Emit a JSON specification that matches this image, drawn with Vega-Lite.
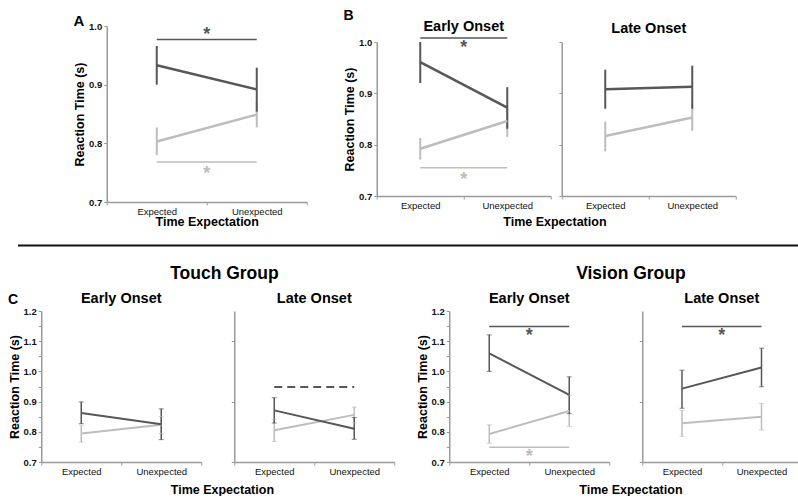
{
"$schema":"https://vega.github.io/schema/vega-lite/v6.json",
"padding":{"left":8,"top":9,"right":0,"bottom":0},
"background":"white",
"config":{"view":{"stroke":null},"font":"Liberation Sans",
"axis":{"domainColor":"#9a9a9a","domainWidth":1.5,"tickColor":"#9a9a9a","tickWidth":1,"tickSize":3,"labelColor":"#111","labelFontSize":9.5,"labelFont":"Liberation Sans","titleFont":"Liberation Sans","titleFontSize":12.5,"titleFontWeight":"bold","titleColor":"#000","grid":false,"labelOverlap":false,"minExtent":0},
"title":{"font":"Liberation Sans","fontSize":14,"fontWeight":"bold","color":"#000","offset":2}},
"datasets":{
"means":[
{"panel":"A","series":"S2","cond":"Expected","mean":0.803,"lo":0.780,"hi":0.827},
{"panel":"A","series":"S2","cond":"Unexpected","mean":0.849,"lo":0.827,"hi":0.871},
{"panel":"A","series":"S1","cond":"Expected","mean":0.933,"lo":0.900,"hi":0.966},
{"panel":"A","series":"S1","cond":"Unexpected","mean":0.892,"lo":0.854,"hi":0.929},
{"panel":"B_early","series":"S2","cond":"Expected","mean":0.792,"lo":0.771,"hi":0.813},
{"panel":"B_early","series":"S2","cond":"Unexpected","mean":0.846,"lo":0.815,"hi":0.877},
{"panel":"B_early","series":"S1","cond":"Expected","mean":0.961,"lo":0.920,"hi":1.000},
{"panel":"B_early","series":"S1","cond":"Unexpected","mean":0.872,"lo":0.831,"hi":0.912},
{"panel":"B_late","series":"S2","cond":"Expected","mean":0.817,"lo":0.787,"hi":0.845},
{"panel":"B_late","series":"S2","cond":"Unexpected","mean":0.853,"lo":0.827,"hi":0.879},
{"panel":"B_late","series":"S1","cond":"Expected","mean":0.908,"lo":0.870,"hi":0.946},
{"panel":"B_late","series":"S1","cond":"Unexpected","mean":0.913,"lo":0.870,"hi":0.954},
{"panel":"T_early","series":"S2","cond":"Expected","mean":0.794,"lo":0.766,"hi":0.822},
{"panel":"T_early","series":"S2","cond":"Unexpected","mean":0.823,"lo":0.795,"hi":0.851},
{"panel":"T_early","series":"S1","cond":"Expected","mean":0.862,"lo":0.827,"hi":0.899},
{"panel":"T_early","series":"S1","cond":"Unexpected","mean":0.825,"lo":0.774,"hi":0.876},
{"panel":"T_late","series":"S2","cond":"Expected","mean":0.805,"lo":0.768,"hi":0.842},
{"panel":"T_late","series":"S2","cond":"Unexpected","mean":0.856,"lo":0.830,"hi":0.882},
{"panel":"T_late","series":"S1","cond":"Expected","mean":0.871,"lo":0.829,"hi":0.913},
{"panel":"T_late","series":"S1","cond":"Unexpected","mean":0.810,"lo":0.775,"hi":0.847},
{"panel":"V_early","series":"S2","cond":"Expected","mean":0.793,"lo":0.762,"hi":0.823},
{"panel":"V_early","series":"S2","cond":"Unexpected","mean":0.869,"lo":0.818,"hi":0.920},
{"panel":"V_early","series":"S1","cond":"Expected","mean":1.060,"lo":1.000,"hi":1.121},
{"panel":"V_early","series":"S1","cond":"Unexpected","mean":0.922,"lo":0.860,"hi":0.982},
{"panel":"V_late","series":"S2","cond":"Expected","mean":0.828,"lo":0.785,"hi":0.871},
{"panel":"V_late","series":"S2","cond":"Unexpected","mean":0.850,"lo":0.806,"hi":0.894},
{"panel":"V_late","series":"S1","cond":"Expected","mean":0.943,"lo":0.878,"hi":1.004},
{"panel":"V_late","series":"S1","cond":"Unexpected","mean":1.013,"lo":0.949,"hi":1.077}
],
"sig":[
{"panel":"A","series":"S1","cond":"Expected","y":0.977,"style":"solid"},
{"panel":"A","series":"S1","cond":"Unexpected","y":0.977,"style":"solid"},
{"panel":"A","series":"S2","cond":"Expected","y":0.768,"style":"solid"},
{"panel":"A","series":"S2","cond":"Unexpected","y":0.768,"style":"solid"},
{"panel":"B_early","series":"S1","cond":"Expected","y":1.008,"style":"solid"},
{"panel":"B_early","series":"S1","cond":"Unexpected","y":1.008,"style":"solid"},
{"panel":"B_early","series":"S2","cond":"Expected","y":0.755,"style":"solid"},
{"panel":"B_early","series":"S2","cond":"Unexpected","y":0.755,"style":"solid"},
{"panel":"T_late","series":"S1","cond":"Expected","y":0.948,"style":"dashed"},
{"panel":"T_late","series":"S1","cond":"Unexpected","y":0.948,"style":"dashed"},
{"panel":"V_early","series":"S1","cond":"Expected","y":1.149,"style":"solid"},
{"panel":"V_early","series":"S1","cond":"Unexpected","y":1.149,"style":"solid"},
{"panel":"V_early","series":"S2","cond":"Expected","y":0.749,"style":"solid"},
{"panel":"V_early","series":"S2","cond":"Unexpected","y":0.749,"style":"solid"},
{"panel":"V_late","series":"S1","cond":"Expected","y":1.149,"style":"solid"},
{"panel":"V_late","series":"S1","cond":"Unexpected","y":1.149,"style":"solid"}
],
"stars":[
{"panel":"A","series":"S1","cond":"Expected","y":0.989},
{"panel":"A","series":"S2","cond":"Expected","y":0.753},
{"panel":"B_early","series":"S1","cond":"Expected","y":0.995},
{"panel":"B_early","series":"S2","cond":"Expected","y":0.737},
{"panel":"V_early","series":"S1","cond":"Expected","y":1.127},
{"panel":"V_early","series":"S2","cond":"Expected","y":0.727},
{"panel":"V_late","series":"S1","cond":"Expected","y":1.127}
]},
"vconcat":[
{"center":true,"align":"each","spacing":35,"hconcat":[
 {"title":{"text":" ","orient":"bottom","fontSize":16,"offset":0},
  "vconcat":[
 {"title":{"text":"A","anchor":"start","fontSize":15,"offset":-8},
  "width":200,"height":176,
  "layer":[
   {"data":{"name":"means"},"transform":[{"filter":"datum.panel==='A'"}],"mark":{"type":"rule","strokeWidth":2},
    "encoding":{"x":{"field":"cond","type":"nominal","scale":{"type":"band","domain":["Expected","Unexpected"],"paddingInner":0,"paddingOuter":0},"axis":{"title":"Time Expectation","labelAngle":0,"tickBand":"extent","labelPadding":1,"titlePadding":0}},
     "y":{"field":"lo","type":"quantitative","scale":{"domain":[0.7,1.0],"nice":false,"zero":false},"axis":{"values":[0.7,0.75,0.8,0.85,0.9,0.95,1.0],"labelOverlap":false,"labelExpr":"round(datum.value*100) % 10 === 0 ? format(datum.value, '.1f') : ''","labelFontWeight":"bold","title":"Reaction Time (s)","titlePadding":2}},
     "y2":{"field":"hi"},
     "color":{"field":"series","type":"nominal","scale":{"domain":["S1","S2"],"range":["#575757","#bdbdbd"]},"legend":null}}},
   {"data":{"name":"means"},"transform":[{"filter":"datum.panel==='A'"}],"mark":{"type":"line","strokeWidth":2.5},
    "encoding":{"x":{"field":"cond","type":"nominal","scale":{"type":"band","domain":["Expected","Unexpected"],"paddingInner":0,"paddingOuter":0}},"y":{"field":"mean","type":"quantitative"},"color":{"field":"series","type":"nominal","legend":null}}},
   {"data":{"name":"sig"},"transform":[{"filter":"datum.panel==='A'"}],"mark":{"type":"line","strokeWidth":1.5},
    "encoding":{"x":{"field":"cond","type":"nominal","scale":{"type":"band","domain":["Expected","Unexpected"],"paddingInner":0,"paddingOuter":0}},"y":{"field":"y","type":"quantitative"},"color":{"field":"series","type":"nominal","legend":null},"detail":{"field":"series"},"strokeDash":{"field":"style","type":"nominal","scale":{"domain":["solid","dashed"],"range":[[1,0],[8,5]]},"legend":null}}},
   {"data":{"name":"stars"},"transform":[{"filter":"datum.panel==='A'"}],"mark":{"type":"text","text":"*","fontSize":18,"fontWeight":"bold","baseline":"middle","dy":3},
    "encoding":{"x":{"field":"cond","type":"nominal","bandPosition":1,"scale":{"type":"band","domain":["Expected","Unexpected"],"paddingInner":0,"paddingOuter":0}},"y":{"field":"y","type":"quantitative"},"color":{"field":"series","type":"nominal","legend":null}}}
  ]}]},
 {"title":{"text":"B","anchor":"start","fontSize":14,"offset":-4},
  "vconcat":[{"title":{"text":"Time Expectation","orient":"bottom","anchor":"middle","fontSize":12.5,"offset":6,"dx":15},"spacing":6,"align":"each",
   "hconcat":[
    {"title":{"text":"Early Onset","fontSize":14.5,"offset":0},"width":174,"height":154,
     "layer":[
      {"data":{"name":"means"},"transform":[{"filter":"datum.panel==='B_early'"}],"mark":{"type":"rule","strokeWidth":2},
       "encoding":{"x":{"field":"cond","type":"nominal","scale":{"type":"band","domain":["Expected","Unexpected"],"paddingInner":0,"paddingOuter":0},"axis":{"title":null,"labelAngle":0,"tickBand":"extent","labelPadding":1}},
        "y":{"field":"lo","type":"quantitative","scale":{"domain":[0.7,1.0],"nice":false,"zero":false},"axis":{"values":[0.7,0.75,0.8,0.85,0.9,0.95,1.0],"labelOverlap":false,"labelExpr":"round(datum.value*100) % 10 === 0 ? format(datum.value, '.1f') : ''","labelFontWeight":"bold","title":"Reaction Time (s)","titlePadding":2}},
        "y2":{"field":"hi"},
        "color":{"field":"series","type":"nominal","scale":{"domain":["S1","S2"],"range":["#575757","#bdbdbd"]},"legend":null}}},
      {"data":{"name":"means"},"transform":[{"filter":"datum.panel==='B_early'"}],"mark":{"type":"line","strokeWidth":2.5},
       "encoding":{"x":{"field":"cond","type":"nominal","scale":{"type":"band","domain":["Expected","Unexpected"],"paddingInner":0,"paddingOuter":0}},"y":{"field":"mean","type":"quantitative"},"color":{"field":"series","type":"nominal","legend":null}}},
      {"data":{"name":"sig"},"transform":[{"filter":"datum.panel==='B_early'"}],"mark":{"type":"line","strokeWidth":1.5},
       "encoding":{"x":{"field":"cond","type":"nominal","scale":{"type":"band","domain":["Expected","Unexpected"],"paddingInner":0,"paddingOuter":0}},"y":{"field":"y","type":"quantitative"},"color":{"field":"series","type":"nominal","legend":null},"detail":{"field":"series"},"strokeDash":{"field":"style","type":"nominal","scale":{"domain":["solid","dashed"],"range":[[1,0],[8,5]]},"legend":null}}},
      {"data":{"name":"stars"},"transform":[{"filter":"datum.panel==='B_early'"}],"mark":{"type":"text","text":"*","fontSize":18,"fontWeight":"bold","baseline":"middle","dy":3},
       "encoding":{"x":{"field":"cond","type":"nominal","bandPosition":1,"scale":{"type":"band","domain":["Expected","Unexpected"],"paddingInner":0,"paddingOuter":0}},"y":{"field":"y","type":"quantitative"},"color":{"field":"series","type":"nominal","legend":null}}}
     ]},
    {"title":{"text":"Late Onset","fontSize":14.5,"offset":5},"width":174,"height":154,
     "layer":[
      {"data":{"name":"means"},"transform":[{"filter":"datum.panel==='B_late'"}],"mark":{"type":"rule","strokeWidth":2},
       "encoding":{"x":{"field":"cond","type":"nominal","scale":{"type":"band","domain":["Expected","Unexpected"],"paddingInner":0,"paddingOuter":0},"axis":{"title":null,"labelAngle":0,"tickBand":"extent","labelPadding":1}},
        "y":{"field":"lo","type":"quantitative","scale":{"domain":[0.7,1.0],"nice":false,"zero":false},"axis":{"values":[0.7,0.75,0.8,0.85,0.9,0.95,1.0],"labels":false,"title":null}},
        "y2":{"field":"hi"},
        "color":{"field":"series","type":"nominal","scale":{"domain":["S1","S2"],"range":["#575757","#bdbdbd"]},"legend":null}}},
      {"data":{"name":"means"},"transform":[{"filter":"datum.panel==='B_late'"}],"mark":{"type":"line","strokeWidth":2.5},
       "encoding":{"x":{"field":"cond","type":"nominal","scale":{"type":"band","domain":["Expected","Unexpected"],"paddingInner":0,"paddingOuter":0}},"y":{"field":"mean","type":"quantitative"},"color":{"field":"series","type":"nominal","legend":null}}}
     ]}
   ]}]}
]},
{"spacing":18,"center":true,"vconcat":[
 {"width":806,"height":1,"data":{"values":[{"y":0}]},"mark":{"type":"rule","color":"#111","strokeWidth":2},"encoding":{"y":{"field":"y","type":"quantitative","axis":null}}},
 {"spacing":20,"align":"each","hconcat":[
  {"title":{"text":"Touch Group","anchor":"middle","fontSize":17.5,"offset":8,"dx":23},
   "vconcat":[{"title":{"text":"Time Expectation","orient":"bottom","anchor":"middle","fontSize":12.5,"offset":8,"dx":21},"spacing":28,"align":"each",
    "hconcat":[
     {"title":{"text":"C","anchor":"start","fontSize":14,"dy":16,"dx":0,"offset":0},
      "vconcat":[
       {"title":{"text":"Early Onset","fontSize":14.5,"offset":0},"width":160,"height":151,
        "resolve":{"axis":{"y":"independent"}},
        "layer":[
         {"data":{"name":"means"},"transform":[{"filter":"datum.panel==='T_early'"}],"mark":{"type":"rule","strokeWidth":1.5},
          "encoding":{"x":{"field":"cond","type":"nominal","scale":{"type":"band","domain":["Expected","Unexpected"],"paddingInner":0,"paddingOuter":0},"axis":{"title":null,"labelAngle":0,"tickBand":"extent","labelPadding":1}},
           "y":{"field":"lo","type":"quantitative","scale":{"domain":[0.7,1.2],"nice":false,"zero":false},"axis":{"orient":"left","values":[0.7,0.8,0.9,1.0,1.1,1.2],"labelOverlap":false,"format":".1f","labelFontWeight":"bold","title":"Reaction Time (s)","titlePadding":2}},
           "y2":{"field":"hi"},
           "color":{"field":"series","type":"nominal","scale":{"domain":["S1","S2"],"range":["#575757","#bdbdbd"]},"legend":null}}},
         {"data":{"name":"means"},"transform":[{"filter":"datum.panel==='T_early'"}],"mark":{"type":"tick","size":5,"thickness":1},
          "encoding":{"x":{"field":"cond","type":"nominal","scale":{"type":"band","domain":["Expected","Unexpected"],"paddingInner":0,"paddingOuter":0}},"y":{"field":"lo","type":"quantitative","axis":{"orient":"left","values":[0.75,0.85,0.95,1.05,1.15],"labels":false,"domain":false,"title":null}},"color":{"field":"series","type":"nominal","legend":null}}},
         {"data":{"name":"means"},"transform":[{"filter":"datum.panel==='T_early'"}],"mark":{"type":"tick","size":5,"thickness":1},
          "encoding":{"x":{"field":"cond","type":"nominal","scale":{"type":"band","domain":["Expected","Unexpected"],"paddingInner":0,"paddingOuter":0}},"y":{"field":"hi","type":"quantitative","axis":null},"color":{"field":"series","type":"nominal","legend":null}}},
         {"data":{"name":"means"},"transform":[{"filter":"datum.panel==='T_early'"}],"mark":{"type":"line","strokeWidth":2},
          "encoding":{"x":{"field":"cond","type":"nominal","scale":{"type":"band","domain":["Expected","Unexpected"],"paddingInner":0,"paddingOuter":0}},"y":{"field":"mean","type":"quantitative","axis":null},"color":{"field":"series","type":"nominal","legend":null}}}
        ]}
      ]},
     {"title":{"text":"Late Onset","fontSize":14.5,"offset":5},"width":160,"height":151,
      "layer":[
       {"data":{"name":"means"},"transform":[{"filter":"datum.panel==='T_late'"}],"mark":{"type":"rule","strokeWidth":1.5},
        "encoding":{"x":{"field":"cond","type":"nominal","scale":{"type":"band","domain":["Expected","Unexpected"],"paddingInner":0,"paddingOuter":0},"axis":{"title":null,"labelAngle":0,"tickBand":"extent","labelPadding":1}},
         "y":{"field":"lo","type":"quantitative","scale":{"domain":[0.7,1.2],"nice":false,"zero":false},"axis":{"values":[0.7,0.75,0.8,0.85,0.9,0.95,1.0,1.05,1.1,1.15,1.2],"labels":false,"title":null}},
         "y2":{"field":"hi"},
         "color":{"field":"series","type":"nominal","scale":{"domain":["S1","S2"],"range":["#575757","#bdbdbd"]},"legend":null}}},
       {"data":{"name":"means"},"transform":[{"filter":"datum.panel==='T_late'"}],"mark":{"type":"tick","size":5,"thickness":1},
        "encoding":{"x":{"field":"cond","type":"nominal","scale":{"type":"band","domain":["Expected","Unexpected"],"paddingInner":0,"paddingOuter":0}},"y":{"field":"lo","type":"quantitative"},"color":{"field":"series","type":"nominal","legend":null}}},
       {"data":{"name":"means"},"transform":[{"filter":"datum.panel==='T_late'"}],"mark":{"type":"tick","size":5,"thickness":1},
        "encoding":{"x":{"field":"cond","type":"nominal","scale":{"type":"band","domain":["Expected","Unexpected"],"paddingInner":0,"paddingOuter":0}},"y":{"field":"hi","type":"quantitative"},"color":{"field":"series","type":"nominal","legend":null}}},
       {"data":{"name":"means"},"transform":[{"filter":"datum.panel==='T_late'"}],"mark":{"type":"line","strokeWidth":2},
        "encoding":{"x":{"field":"cond","type":"nominal","scale":{"type":"band","domain":["Expected","Unexpected"],"paddingInner":0,"paddingOuter":0}},"y":{"field":"mean","type":"quantitative"},"color":{"field":"series","type":"nominal","legend":null}}},
       {"data":{"name":"sig"},"transform":[{"filter":"datum.panel==='T_late'"}],"mark":{"type":"line","strokeWidth":2},
        "encoding":{"x":{"field":"cond","type":"nominal","scale":{"type":"band","domain":["Expected","Unexpected"],"paddingInner":0,"paddingOuter":0}},"y":{"field":"y","type":"quantitative"},"color":{"field":"series","type":"nominal","legend":null},"detail":{"field":"series"},"strokeDash":{"field":"style","type":"nominal","scale":{"domain":["solid","dashed"],"range":[[1,0],[8,5]]},"legend":null}}}
      ]}
    ]}]},
  {"title":{"text":"Vision Group","anchor":"middle","fontSize":17.5,"offset":8,"dx":22},
   "vconcat":[{"title":{"text":"Time Expectation","orient":"bottom","anchor":"middle","fontSize":12.5,"offset":8,"dx":22},"spacing":28,"align":"each",
    "hconcat":[
     {"title":{"text":"Early Onset","fontSize":14.5,"offset":0},"width":160,"height":151,
      "resolve":{"axis":{"y":"independent"}},
      "layer":[
       {"data":{"name":"means"},"transform":[{"filter":"datum.panel==='V_early'"}],"mark":{"type":"rule","strokeWidth":1.5},
        "encoding":{"x":{"field":"cond","type":"nominal","scale":{"type":"band","domain":["Expected","Unexpected"],"paddingInner":0,"paddingOuter":0},"axis":{"title":null,"labelAngle":0,"tickBand":"extent","labelPadding":1}},
         "y":{"field":"lo","type":"quantitative","scale":{"domain":[0.7,1.2],"nice":false,"zero":false},"axis":{"orient":"left","values":[0.7,0.8,0.9,1.0,1.1,1.2],"labelOverlap":false,"format":".1f","labelFontWeight":"bold","title":"Reaction Time (s)","titlePadding":2}},
         "y2":{"field":"hi"},
         "color":{"field":"series","type":"nominal","scale":{"domain":["S1","S2"],"range":["#575757","#bdbdbd"]},"legend":null}}},
       {"data":{"name":"means"},"transform":[{"filter":"datum.panel==='V_early'"}],"mark":{"type":"tick","size":5,"thickness":1},
        "encoding":{"x":{"field":"cond","type":"nominal","scale":{"type":"band","domain":["Expected","Unexpected"],"paddingInner":0,"paddingOuter":0}},"y":{"field":"lo","type":"quantitative","axis":{"orient":"left","values":[0.75,0.85,0.95,1.05,1.15],"labels":false,"domain":false,"title":null}},"color":{"field":"series","type":"nominal","legend":null}}},
       {"data":{"name":"means"},"transform":[{"filter":"datum.panel==='V_early'"}],"mark":{"type":"tick","size":5,"thickness":1},
        "encoding":{"x":{"field":"cond","type":"nominal","scale":{"type":"band","domain":["Expected","Unexpected"],"paddingInner":0,"paddingOuter":0}},"y":{"field":"hi","type":"quantitative","axis":null},"color":{"field":"series","type":"nominal","legend":null}}},
       {"data":{"name":"means"},"transform":[{"filter":"datum.panel==='V_early'"}],"mark":{"type":"line","strokeWidth":2},
        "encoding":{"x":{"field":"cond","type":"nominal","scale":{"type":"band","domain":["Expected","Unexpected"],"paddingInner":0,"paddingOuter":0}},"y":{"field":"mean","type":"quantitative","axis":null},"color":{"field":"series","type":"nominal","legend":null}}},
       {"data":{"name":"sig"},"transform":[{"filter":"datum.panel==='V_early'"}],"mark":{"type":"line","strokeWidth":1.5},
        "encoding":{"x":{"field":"cond","type":"nominal","scale":{"type":"band","domain":["Expected","Unexpected"],"paddingInner":0,"paddingOuter":0}},"y":{"field":"y","type":"quantitative","axis":null},"color":{"field":"series","type":"nominal","legend":null},"detail":{"field":"series"},"strokeDash":{"field":"style","type":"nominal","scale":{"domain":["solid","dashed"],"range":[[1,0],[8,5]]},"legend":null}}},
       {"data":{"name":"stars"},"transform":[{"filter":"datum.panel==='V_early'"}],"mark":{"type":"text","text":"*","fontSize":18,"fontWeight":"bold","baseline":"middle","dy":3},
        "encoding":{"x":{"field":"cond","type":"nominal","bandPosition":1,"scale":{"type":"band","domain":["Expected","Unexpected"],"paddingInner":0,"paddingOuter":0}},"y":{"field":"y","type":"quantitative","axis":null},"color":{"field":"series","type":"nominal","legend":null}}}
      ]},
     {"title":{"text":"Late Onset","fontSize":14.5,"offset":5},"width":159,"height":151,
      "layer":[
       {"data":{"name":"means"},"transform":[{"filter":"datum.panel==='V_late'"}],"mark":{"type":"rule","strokeWidth":1.5},
        "encoding":{"x":{"field":"cond","type":"nominal","scale":{"type":"band","domain":["Expected","Unexpected"],"paddingInner":0,"paddingOuter":0},"axis":{"title":null,"labelAngle":0,"tickBand":"extent","labelPadding":1}},
         "y":{"field":"lo","type":"quantitative","scale":{"domain":[0.7,1.2],"nice":false,"zero":false},"axis":{"values":[0.7,0.75,0.8,0.85,0.9,0.95,1.0,1.05,1.1,1.15,1.2],"labels":false,"title":null}},
         "y2":{"field":"hi"},
         "color":{"field":"series","type":"nominal","scale":{"domain":["S1","S2"],"range":["#575757","#bdbdbd"]},"legend":null}}},
       {"data":{"name":"means"},"transform":[{"filter":"datum.panel==='V_late'"}],"mark":{"type":"tick","size":5,"thickness":1},
        "encoding":{"x":{"field":"cond","type":"nominal","scale":{"type":"band","domain":["Expected","Unexpected"],"paddingInner":0,"paddingOuter":0}},"y":{"field":"lo","type":"quantitative"},"color":{"field":"series","type":"nominal","legend":null}}},
       {"data":{"name":"means"},"transform":[{"filter":"datum.panel==='V_late'"}],"mark":{"type":"tick","size":5,"thickness":1},
        "encoding":{"x":{"field":"cond","type":"nominal","scale":{"type":"band","domain":["Expected","Unexpected"],"paddingInner":0,"paddingOuter":0}},"y":{"field":"hi","type":"quantitative"},"color":{"field":"series","type":"nominal","legend":null}}},
       {"data":{"name":"means"},"transform":[{"filter":"datum.panel==='V_late'"}],"mark":{"type":"line","strokeWidth":2},
        "encoding":{"x":{"field":"cond","type":"nominal","scale":{"type":"band","domain":["Expected","Unexpected"],"paddingInner":0,"paddingOuter":0}},"y":{"field":"mean","type":"quantitative"},"color":{"field":"series","type":"nominal","legend":null}}},
       {"data":{"name":"sig"},"transform":[{"filter":"datum.panel==='V_late'"}],"mark":{"type":"line","strokeWidth":1.5},
        "encoding":{"x":{"field":"cond","type":"nominal","scale":{"type":"band","domain":["Expected","Unexpected"],"paddingInner":0,"paddingOuter":0}},"y":{"field":"y","type":"quantitative"},"color":{"field":"series","type":"nominal","legend":null},"detail":{"field":"series"},"strokeDash":{"field":"style","type":"nominal","scale":{"domain":["solid","dashed"],"range":[[1,0],[8,5]]},"legend":null}}},
       {"data":{"name":"stars"},"transform":[{"filter":"datum.panel==='V_late'"}],"mark":{"type":"text","text":"*","fontSize":18,"fontWeight":"bold","baseline":"middle","dy":3},
        "encoding":{"x":{"field":"cond","type":"nominal","bandPosition":1,"scale":{"type":"band","domain":["Expected","Unexpected"],"paddingInner":0,"paddingOuter":0}},"y":{"field":"y","type":"quantitative"},"color":{"field":"series","type":"nominal","legend":null}}}
      ]}
    ]}]}
 ]}
]}
],
"spacing":0,
"center":true,
"align":"each"
}
